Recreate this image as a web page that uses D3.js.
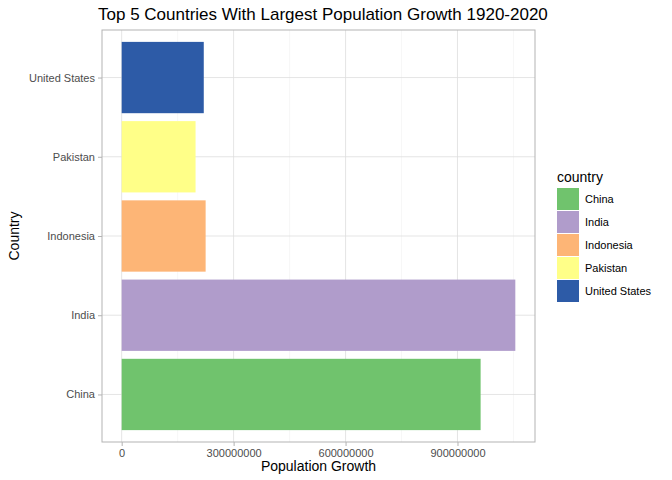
<!DOCTYPE html>
<html>
<head>
<meta charset="utf-8">
<script src="https://cdn.jsdelivr.net/npm/d3@7"></script>
<style>
  body { margin: 0; background: #fff; }
  text { font-family: "Liberation Sans", Arial, sans-serif; }
</style>
</head>
<body>
<script>
var countries = ["China", "India", "Indonesia", "Pakistan", "United States"];
var growth = [962000000, 1055000000, 225000000, 198000000, 220000000];
var colors = ["#70c36d", "#b09ccb", "#fdb576", "#ffff88", "#2d5ba7"];
var xTicks = [0, 300000000, 600000000, 900000000];
var xMinor = [150000000, 450000000, 750000000, 1050000000];

var width = 672, height = 480;
var panel = { left: 102, right: 535, top: 30, bottom: 442 };

var svg = d3.select("body").append("svg")
  .attr("width", width)
  .attr("height", height);

var maxV = d3.max(growth);
var x = d3.scaleLinear()
  .domain([-0.05 * maxV, 1.05 * maxV])
  .range([panel.left, panel.right]);

// discrete positions like ggplot: 1..n with 0.6 expansion
var yPos = d3.scaleLinear()
  .domain([0.4, countries.length + 0.6])
  .range([panel.bottom, panel.top]);
var cy = function(d) { return yPos(countries.indexOf(d) + 1); };
var barH = yPos(0) - yPos(0.9);

var g = svg.append("g");
g.selectAll(".minor").data(xMinor).enter().append("line")
  .attr("x1", d => x(d)).attr("x2", d => x(d))
  .attr("y1", panel.top).attr("y2", panel.bottom)
  .style("stroke", "#f2f2f2").style("stroke-width", 0.6);
g.selectAll(".major").data(xTicks).enter().append("line")
  .attr("x1", d => x(d)).attr("x2", d => x(d))
  .attr("y1", panel.top).attr("y2", panel.bottom)
  .style("stroke", "#dedede").style("stroke-width", 0.8);
g.selectAll(".hmajor").data(countries).enter().append("line")
  .attr("x1", panel.left).attr("x2", panel.right)
  .attr("y1", cy).attr("y2", cy)
  .style("stroke", "#dedede").style("stroke-width", 0.8);

svg.selectAll(".bar").data(countries).enter().append("rect")
  .attr("x", x(0))
  .attr("y", d => cy(d) - barH / 2)
  .attr("width", (d, i) => x(growth[i]) - x(0))
  .attr("height", barH)
  .style("fill", (d, i) => colors[i]);

svg.append("rect")
  .attr("x", panel.left).attr("y", panel.top)
  .attr("width", panel.right - panel.left).attr("height", panel.bottom - panel.top)
  .style("fill", "none").style("stroke", "#b3b3b3").style("stroke-width", 1);

var xAxis = svg.append("g")
  .attr("transform", "translate(0," + panel.bottom + ")")
  .call(d3.axisBottom(x).tickValues(xTicks).tickFormat(d3.format("d")).tickSize(4).tickPadding(3));
var yAxis = svg.append("g")
  .attr("transform", "translate(" + panel.left + ",0)")
  .call(d3.axisLeft(yPos).tickValues(d3.range(1, countries.length + 1))
    .tickFormat(d => countries[d - 1]).tickSize(4).tickPadding(3));
[xAxis, yAxis].forEach(function(a) {
  a.select(".domain").remove();
  a.selectAll(".tick line").style("stroke", "#b3b3b3");
  a.selectAll(".tick text").style("fill", "#4d4d4d").style("font-size", "11px")
    .style("font-family", "Liberation Sans, Arial, sans-serif");
});

svg.append("text").attr("x", (panel.left + panel.right) / 2).attr("y", 471)
  .attr("text-anchor", "middle").style("font-size", "14px").text("Population Growth");
svg.append("text").attr("transform", "translate(19," + (panel.top + panel.bottom) / 2 + ") rotate(-90)")
  .attr("text-anchor", "middle").style("font-size", "14px").text("Country");
svg.append("text").attr("x", 98).attr("y", 20)
  .style("font-size", "17px").text("Top 5 Countries With Largest Population Growth 1920-2020");

var leg = svg.append("g").attr("transform", "translate(557,0)");
leg.append("text").attr("x", 0).attr("y", 182).style("font-size", "14px").text("country");
var items = leg.selectAll(".item").data(countries).enter().append("g")
  .attr("transform", (d, i) => "translate(0," + (188 + i * 23) + ")");
items.append("rect").attr("width", 22).attr("height", 22)
  .style("fill", (d, i) => colors[i]);
items.append("text").attr("x", 28).attr("y", 15).style("font-size", "11px").text(d => d);
</script>
</body>
</html>
